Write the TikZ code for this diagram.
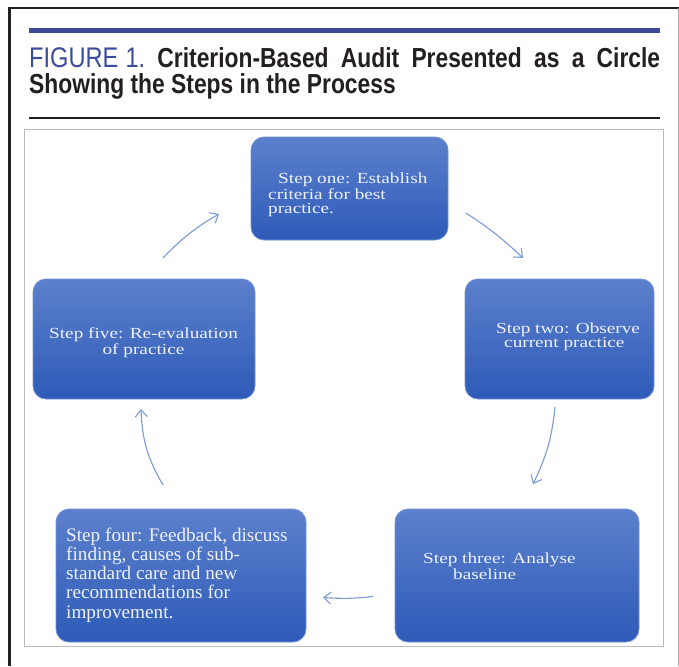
\documentclass[tikz,border=0pt]{standalone}
\usepackage{fontspec}
\setmainfont{Liberation Serif}
\newfontfamily\titlefont[FakeStretch=0.83]{Liberation Sans}
\newfontfamily\boxfont[FakeStretch=1.25]{Liberation Serif}
\usetikzlibrary{arrows.meta}
\definecolor{figblue}{HTML}{3D4B9B}
\definecolor{titleink}{HTML}{231F20}
\definecolor{boxtop}{HTML}{5C80CC}
\definecolor{boxbot}{HTML}{2E5BB8}
\definecolor{boxedge}{HTML}{7391D6}
\definecolor{boxtext}{HTML}{EEF1F8}
\definecolor{flowcol}{HTML}{7C9AD6}
\definecolor{panelgray}{HTML}{BDBDBD}
\begin{document}
\begin{tikzpicture}[x=1pt,y=1pt,
  stepbox/.style={rounded corners=13pt, top color=boxtop, bottom color=boxbot, draw=boxedge, line width=0.8pt, inner sep=0pt},
  steptext/.style={text=boxtext, inner sep=0pt, font=\boxfont\fontsize{15.4pt}{14pt}\selectfont, align=left, anchor=base west},
  flow/.style={draw=flowcol, line width=1.1pt, -{Straight Barb[length=7pt,width=12pt]}}
]
\useasboundingbox (0,0) rectangle (679,-666);
\fill[white] (0,0) rectangle (679,-666);
% outer frame
\draw[titleink, line width=2.3pt] (9.6,-666) -- (9.6,-8.2) -- (679,-8.2);
\draw[gray!70, line width=0.9pt] (678,-8) -- (678,-666);
% title rules
\fill[figblue] (29,-28) rectangle (660,-33);
\fill[titleink] (29,-116.8) rectangle (660,-119.2);
% title
\node[inner sep=0pt, anchor=base west, font=\titlefont\fontsize{27.5pt}{30pt}\selectfont] (t1) at (29,-68)
  {\makebox[631pt][s]{\textcolor{figblue}{\resizebox{116pt}{19.8pt}{\mdseries FIGURE\hspace{0.25em}1.}} \textcolor{titleink}{\bfseries Criterion-Based Audit Presented as a Circle}}};
\node[inner sep=0pt, anchor=base west, text=titleink, font=\titlefont\bfseries\fontsize{27.5pt}{30pt}\selectfont] (t2) at (29,-93.5)
  {Showing the Steps in the Process};
% panel
\draw[panelgray, line width=1pt] (24,-129) rectangle (663,-646);
% boxes
\node[stepbox, minimum width=197pt, minimum height=103pt] (one) at (349.5,-188.5) {};
\node[stepbox, minimum width=189pt, minimum height=120pt] (two) at (559.5,-339) {};
\node[stepbox, minimum width=244pt, minimum height=133pt] (three) at (517,-575.5) {};
\node[stepbox, minimum width=250pt, minimum height=133pt] (four) at (181,-575.5) {};
\node[stepbox, minimum width=222pt, minimum height=120pt] (five) at (144,-339) {};
% texts (anchor = baseline of last line)
\node[steptext] (onet) at (268,-213) {\hspace*{10pt}Step one: Establish\\criteria for best\\practice.};
\node[steptext] (twot) at (496,-347) {Step two: Observe\\\hspace*{8pt}current practice};
\node[steptext, font=\boxfont\fontsize{15.4pt}{13pt}\selectfont] (threet) at (423,-579) {Step three: Analyse\\\hspace*{30pt}baseline};
\node[steptext, font=\rmfamily\fontsize{19.2pt}{19.25pt}\selectfont] (fourt) at (66,-618) {Step four: Feedback, discuss\\finding, causes of sub-\\standard care and new\\recommendations for\\improvement.};
\node[steptext, align=center, anchor=base] (fivet) at (143.5,-354) {Step five: Re-evaluation\\of practice};
% connectors
\coordinate (a1s) at (163,-258); \coordinate (a1e) at (219,-214);
\coordinate (a2s) at (466,-213); \coordinate (a2e) at (523,-258);
\coordinate (a3s) at (555,-407); \coordinate (a3e) at (533,-484);
\coordinate (a4s) at (373,-596.5); \coordinate (a4e) at (323,-597.5);
\coordinate (a5s) at (163,-485); \coordinate (a5e) at (141,-409);
\draw[flow] (a1s) to[bend left=8] (a1e);
\draw[flow] (a2s) to[bend left=5] (a2e);
\draw[flow] (a3s) to[bend left=10] (a3e);
\draw[flow] (a4s) to[bend left=5] (a4e);
\draw[flow] (a5s) to[bend left=14] (a5e);
\end{tikzpicture}
\end{document}
